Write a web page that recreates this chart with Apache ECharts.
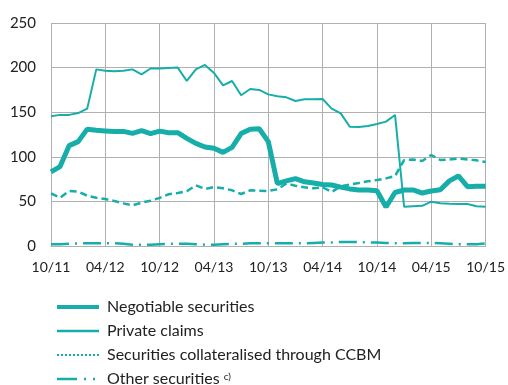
<!DOCTYPE html>
<html>
<head>
<meta charset="utf-8">
<script src="https://cdn.jsdelivr.net/npm/echarts@6/dist/echarts.min.js"></script>
<style>
  html, body { margin: 0; padding: 0; background: #fff; }
  #chart { width: 508px; height: 385px; }
</style>
</head>
<body>
<div id="chart"></div>
<script>
// Monthly observations, October 2011 to October 2015 (EUR billions)
const months = [
  '10/11','11/11','12/11','01/12','02/12','03/12','04/12','05/12','06/12','07/12','08/12','09/12',
  '10/12','11/12','12/12','01/13','02/13','03/13','04/13','05/13','06/13','07/13','08/13','09/13',
  '10/13','11/13','12/13','01/14','02/14','03/14','04/14','05/14','06/14','07/14','08/14','09/14',
  '10/14','11/14','12/14','01/15','02/15','03/15','04/15','05/15','06/15','07/15','08/15','09/15',
  '10/15'
];

const negotiableSecurities = [
  83, 89, 112.5, 117, 131, 129.7, 129, 128.3, 128.5, 126.3, 129.3, 126,
  128.8, 127, 127, 120.7, 115, 111, 109.5, 105, 110.6, 126, 131, 131.5,
  117, 70, 73, 75.5, 72, 70.6, 69, 68.4, 66, 64, 62.8, 62.8,
  62, 43.7, 60, 62.8, 62.8, 59.4, 61.7, 63, 73, 78.5, 66.5, 67,
  67
];

const privateClaims = [
  145.5, 147, 147, 149, 154, 198, 196.5, 196, 196.5, 198, 192.5, 199,
  199, 199.5, 200, 185, 198, 203, 194, 180, 185, 169, 176, 175,
  170, 168, 166.7, 162.6, 164.5, 164.5, 164.8, 154, 148.7, 133.7, 133.4, 134.5,
  136.8, 139.4, 146.9, 44, 44.5, 45, 49.7, 48, 47.4, 47, 47, 44.5,
  44
];

const ccbmSecurities = [
  59, 54, 61.7, 61, 56.4, 54, 52.7, 50.4, 47.8, 45.6, 48.6, 50.8,
  54, 58, 59.4, 61.3, 68, 64, 66, 64.7, 62.4, 58.3, 62.4, 62,
  61.7, 63.5, 70, 67.6, 65.8, 64.7, 65.8, 60.5, 67, 69, 70.6, 72.5,
  74, 75.8, 78.5, 96.4, 97, 95.3, 102, 96.4, 97, 97.9, 97, 96,
  94.2
];

const otherSecurities = [
  2, 2, 2.5, 3, 3, 3, 3, 3, 2.5, 1.5, 1.5, 1.5,
  2, 2.5, 2.5, 2.5, 2, 1.5, 1.5, 2, 2.5, 2.5, 3, 3,
  3, 3, 3, 3, 3, 3.5, 4, 4, 4.5, 4.5, 4.5, 4,
  4, 3.5, 3, 3, 3.5, 3.5, 3.5, 3, 2.5, 2, 2, 2,
  3
];

const yTicks = { min: 0, max: 250, interval: 50 };

const teal = '#17AEA9';
const gridGray = '#b0b0b0';
const fontFamily = 'Lato, "Open Sans", sans-serif';

const chart = echarts.init(document.getElementById('chart'), null, { renderer: 'canvas' });

chart.setOption({
  animation: false,
  backgroundColor: '#ffffff',
  grid: { left: 51, right: 21, top: 23, bottom: 139, containLabel: false },
  xAxis: {
    type: 'category',
    data: months,
    boundaryGap: false,
    axisLine: { show: true, lineStyle: { color: gridGray, width: 1 } },
    axisTick: { show: false },
    axisLabel: {
      interval: 5,
      color: '#222',
      fontFamily: fontFamily,
      fontSize: 14,
      margin: 14
    },
    splitLine: { show: true, interval: 5, lineStyle: { color: gridGray, width: 1 } }
  },
  yAxis: {
    type: 'value',
    min: yTicks.min,
    max: yTicks.max,
    interval: yTicks.interval,
    axisLine: { show: false },
    axisTick: { show: false },
    axisLabel: {
      color: '#222',
      fontFamily: fontFamily,
      fontSize: 15,
      margin: 15
    },
    splitLine: { show: true, lineStyle: { color: gridGray, width: 1 } }
  },
  legend: {
    orient: 'vertical',
    left: 55,
    top: 299,
    height: 140,
    padding: 0,
    itemWidth: 42,
    itemHeight: 14,
    itemGap: 8,
    itemStyle: { opacity: 0 },
    textStyle: {
      color: '#222',
      fontFamily: fontFamily,
      fontSize: 16,
      lineHeight: 14,
      padding: [0, 0, 0, 3],
      rich: {
        base: { color: '#222', fontFamily: fontFamily, fontSize: 16, lineHeight: 14 },
        sup: { color: '#222', fontFamily: fontFamily, fontSize: 10, lineHeight: 14, verticalAlign: 'top', padding: [0, 0, 8, 4] }
      }
    },
    formatter: function (name) {
      if (name === 'Other securities') {
        return '{base|Other securities}{sup|c)}';
      }
      return name;
    },
    data: [
      { name: 'Negotiable securities', lineStyle: { width: 4 } },
      { name: 'Private claims', lineStyle: { width: 2.5 } },
      { name: 'Securities collateralised through CCBM', lineStyle: { type: [2, 2], width: 2 } },
      { name: 'Other securities', lineStyle: { type: [20, 7, 2, 7, 2, 20], width: 2.5 } }
    ]
  },
  series: [
    {
      name: 'Other securities',
      type: 'line',
      data: otherSecurities,
      symbol: 'none',
      z: 1,
      lineStyle: { color: teal, width: 2.5, type: [18, 6, 2, 6] },
      itemStyle: { color: teal }
    },
    {
      name: 'Securities collateralised through CCBM',
      type: 'line',
      data: ccbmSecurities,
      symbol: 'none',
      z: 2,
      lineStyle: { color: teal, width: 2.5, type: [7, 4] },
      itemStyle: { color: teal }
    },
    {
      name: 'Private claims',
      type: 'line',
      data: privateClaims,
      symbol: 'none',
      z: 3,
      lineStyle: { color: teal, width: 2 },
      itemStyle: { color: teal }
    },
    {
      name: 'Negotiable securities',
      type: 'line',
      data: negotiableSecurities,
      symbol: 'none',
      z: 4,
      lineStyle: { color: teal, width: 5 },
      itemStyle: { color: teal }
    }
  ]
});
</script>
</body>
</html>
